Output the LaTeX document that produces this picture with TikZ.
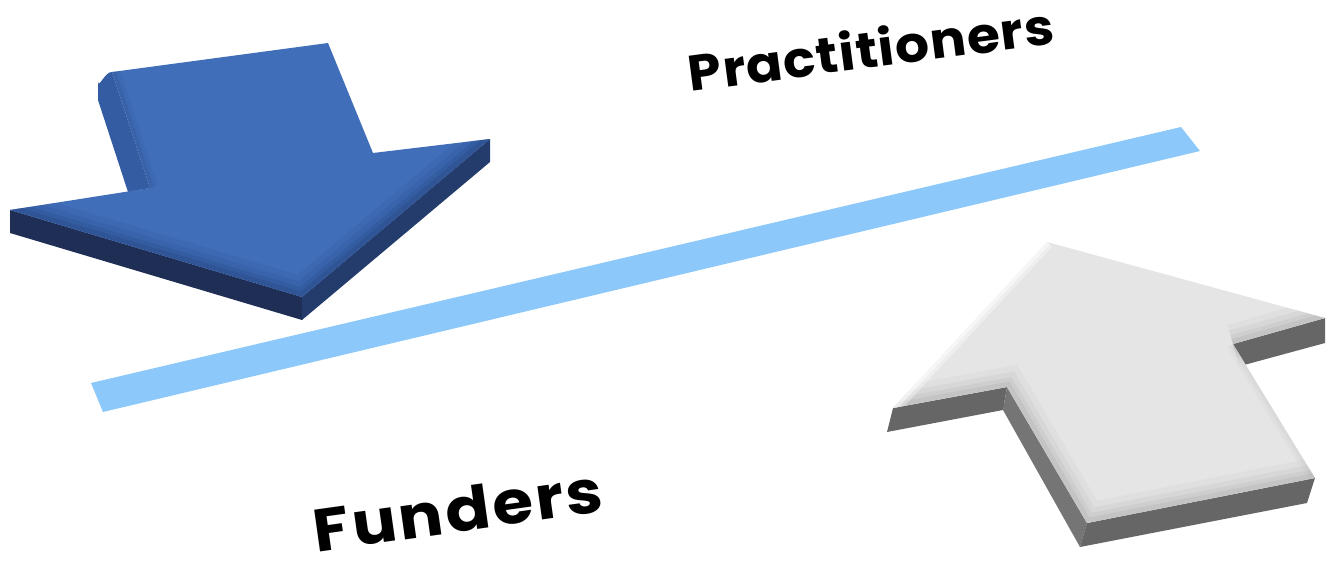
\documentclass[tikz,border=0pt]{standalone}
\usepackage{fontspec}
\setmainfont{Poppins}
\definecolor{bluetop}{RGB}{65,110,185}
\definecolor{bluebevel}{RGB}{40,72,135}
\definecolor{blueleft}{RGB}{30,46,84}
\definecolor{blueright}{RGB}{36,60,108}
\definecolor{blueshaft}{RGB}{52,92,162}
\definecolor{barblue}{RGB}{140,200,250}
\definecolor{greytop}{RGB}{229,229,229}
\definecolor{greybevel}{RGB}{175,175,175}
\definecolor{greyfront}{RGB}{102,102,102}
\definecolor{greyside}{RGB}{140,140,140}
\tikzset{
  label text/.style={inner sep=0pt, font=\bfseries},
}
\begin{document}
\begin{tikzpicture}[x=1pt,y=-1pt]
\useasboundingbox (0,0) rectangle (1326,560);
% bar
\fill[barblue] (91,383) -- (1181,127) -- (1200,151) -- (103,412) -- cycle;
% blue arrow
\fill[blueleft] (10,210) -- (302,297) -- (302,320) -- (10,233) -- cycle;
\fill[blueright] (302,297) -- (490,139) -- (490,162) -- (302,320) -- cycle;
\fill[blueshaft] (98,82) to[out=-85,in=175] (112,72) -- (150,188) -- (128,192) -- (98,100) -- cycle;
\begin{scope}
\clip (112,72) -- (328,43) -- (373,153) -- (490,139) -- (302,297) -- (10,210) -- (150,188) -- cycle;
\fill[bluetop] (0,0) rectangle (500,320);
\foreach \w/\o in {40/0.12,28/0.18,18/0.25,10/0.35}
  \draw[bluebevel, line width=\w, opacity=\o, line join=miter] (10,210) -- (302,297) -- (490,139);
\foreach \w/\o in {16/0.12,8/0.2}
  \draw[bluebevel, line width=\w, opacity=\o] (112,72) -- (150,188);
\end{scope}
% grey arrow
\fill[greyfront] (893,408) -- (1007,387) -- (1003,410) -- (887,432) -- cycle;
\shade[left color=greyfront!90, right color=greyside!120!white] (1007,387) -- (1087,523) -- (1080,547) -- (1003,410) -- cycle;
\fill[greyfront] (1087,523) -- (1315,478) -- (1307,503) -- (1080,547) -- cycle;
\fill[greyfront] (1233,344) -- (1325,318) -- (1325,343) -- (1244,365) -- cycle;
\begin{scope}
\clip (1047,242) -- (1325,318) -- (1233,344) -- (1315,478) -- (1087,523) -- (1007,387) -- (893,408) -- cycle;
\fill[greytop] (880,230) rectangle (1326,560);
\foreach \w/\o in {40/0.10,28/0.15,18/0.22,10/0.3}
  \draw[greybevel, line width=\w, opacity=\o, line join=miter] (893,408) -- (1007,387) -- (1087,523) -- (1315,478);
\foreach \w/\o in {40/0.10,28/0.15,18/0.22,10/0.3}
  \draw[greybevel, line width=\w, opacity=\o, line join=miter] (1325,318) -- (1233,344);
\foreach \w/\o in {14/0.08,7/0.12}
  \draw[greybevel, line width=\w, opacity=\o] (1233,344) -- (1315,478);
\foreach \w/\o in {14/0.35,7/0.5}
  \draw[white, line width=\w, opacity=\o] (893,408) -- (1047,242);
\end{scope}
% labels
\node[label text, rotate=7.5, font=\bfseries\fontsize{50}{54}\selectfont\addfontfeature{LetterSpace=2}] (practitioners) at (871,48) {\scalebox{1.07}[1]{Practitioners}};
\node[label text, rotate=8, font=\bfseries\fontsize{60}{64}\selectfont\addfontfeature{LetterSpace=4}] (funders) at (458,510) {\scalebox{1.1}[1]{Funders}};
\end{tikzpicture}
\end{document}
